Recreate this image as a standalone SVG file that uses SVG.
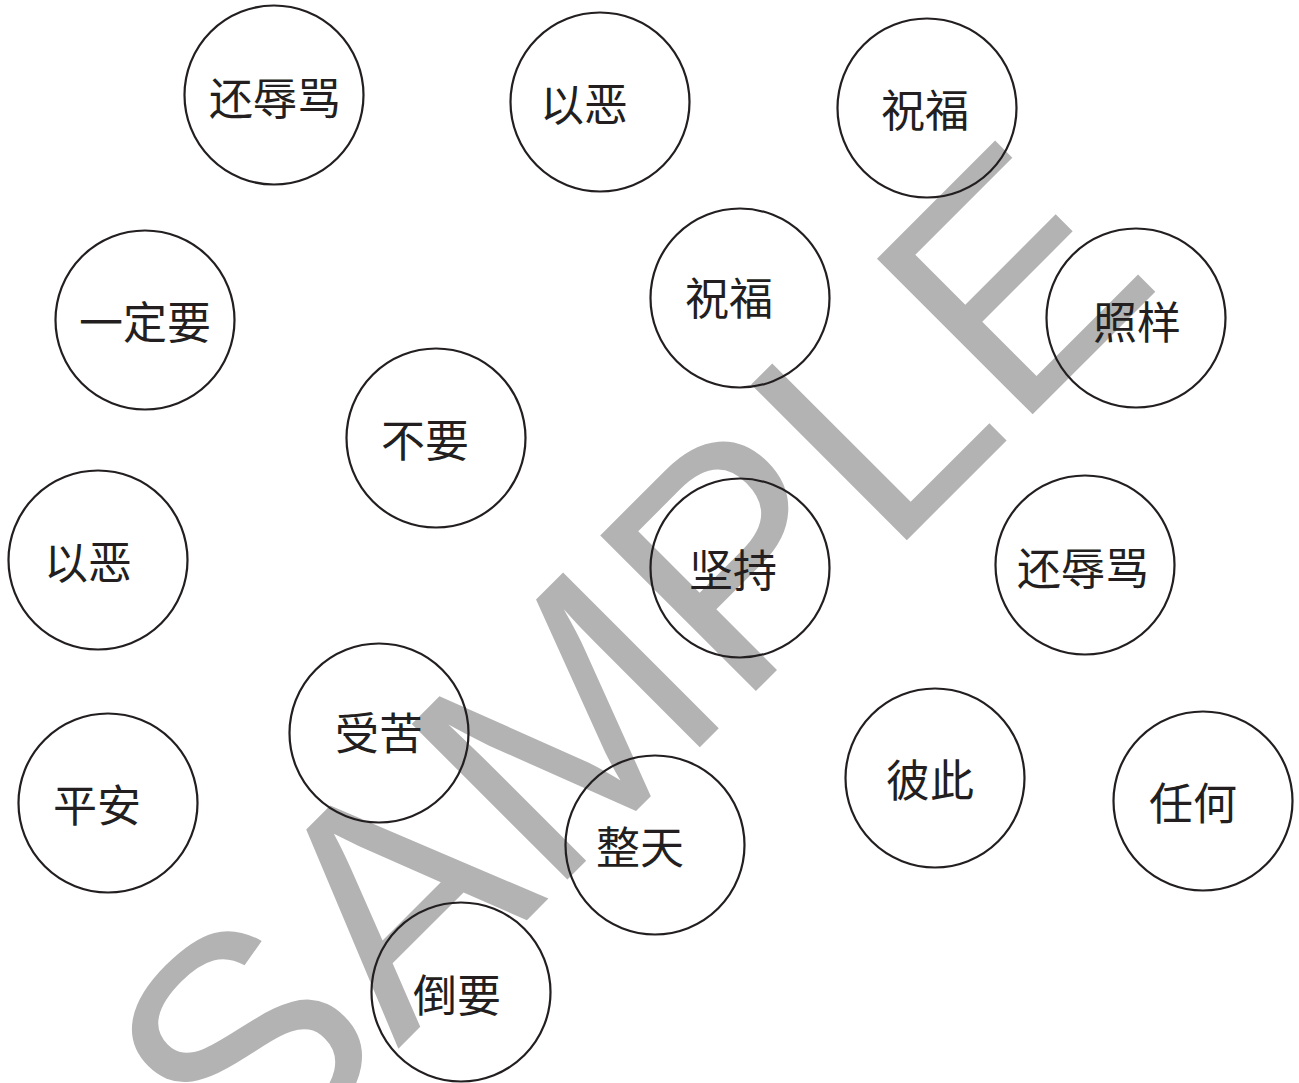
<svg xmlns="http://www.w3.org/2000/svg" width="1299" height="1083" viewBox="0 0 1299 1083">
<style>
.n circle{fill:none;stroke:#231f20;stroke-width:2.2}
.n text{font-family:"Noto Sans CJK SC","Noto Sans",sans-serif;font-size:44px;fill:#231f20;text-anchor:middle;dominant-baseline:central}
.wm{font-family:"Liberation Sans",Arial,sans-serif;font-size:320px;fill:#b3b3b3}
</style>
<rect width="1299" height="1083" fill="#fff"/>
<text class="wm" transform="translate(247,1200) rotate(-45)">SAMPLE</text>
<g id="connectors"/>
<g id="n1" class="n"><circle cx="274" cy="95" r="89.5"/><text x="275" y="96">还辱骂</text></g>
<g id="n2" class="n"><circle cx="600" cy="102" r="89.5"/><text x="584" y="102">以恶</text></g>
<g id="n3" class="n"><circle cx="927" cy="108" r="89.5"/><text x="925" y="108">祝福</text></g>
<g id="n4" class="n"><circle cx="145" cy="320" r="89.5"/><text x="145" y="320">一定要</text></g>
<g id="n5" class="n"><circle cx="740" cy="298" r="89.5"/><text x="729" y="296">祝福</text></g>
<g id="n6" class="n"><circle cx="1136" cy="318" r="89.5"/><text x="1137" y="320">照样</text></g>
<g id="n7" class="n"><circle cx="436" cy="438" r="89.5"/><text x="425" y="438">不要</text></g>
<g id="n8" class="n"><circle cx="98" cy="560" r="89.5"/><text x="88" y="560">以恶</text></g>
<g id="n9" class="n"><circle cx="740" cy="568" r="89.5"/><text x="733" y="568">坚持</text></g>
<g id="n10" class="n"><circle cx="1085" cy="565" r="89.5"/><text x="1083" y="566">还辱骂</text></g>
<g id="n11" class="n"><circle cx="379" cy="733" r="89.5"/><text x="379" y="731">受苦</text></g>
<g id="n12" class="n"><circle cx="108" cy="803" r="89.5"/><text x="97" y="803">平安</text></g>
<g id="n13" class="n"><circle cx="935" cy="778" r="89.5"/><text x="930" y="778">彼此</text></g>
<g id="n14" class="n"><circle cx="1203" cy="801" r="89.5"/><text x="1193" y="801">任何</text></g>
<g id="n15" class="n"><circle cx="655" cy="845" r="89.5"/><text x="640" y="845">整天</text></g>
<g id="n16" class="n"><circle cx="461" cy="992" r="89.5"/><text x="457" y="993">倒要</text></g>
</svg>
